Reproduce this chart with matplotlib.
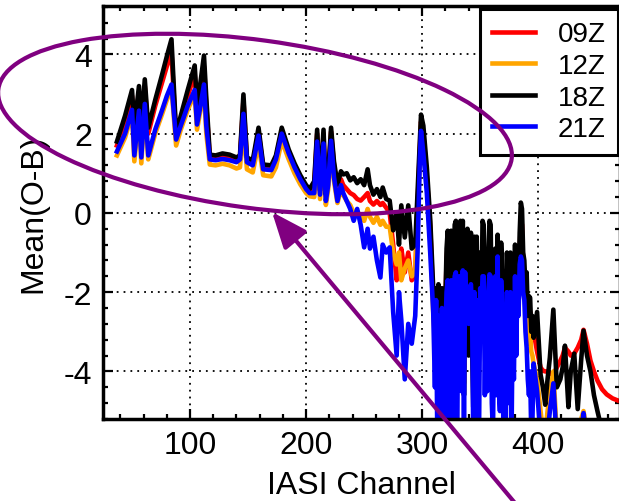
import matplotlib
matplotlib.use('Agg')
import matplotlib.pyplot as plt
from matplotlib.patches import Ellipse
from matplotlib.transforms import IdentityTransform
from matplotlib.ticker import MultipleLocator

plt.rcParams['font.family'] = ['Liberation Sans', 'DejaVu Sans']
plt.rcParams['axes.unicode_minus'] = False

# channel positions; 311-395 is the noisy part, every channel
chan = ([37, 44, 50, 52, 56, 58, 61, 64, 70, 76, 80, 84, 88, 92, 98, 104, 106, 109, 112, 114, 117, 122, 128, 134, 140,
         143, 146, 149, 154, 159, 163, 170, 174, 179, 185, 190, 195, 200, 203,
         207, 209.5, 212, 215, 217, 219, 221.5, 224, 227,
         230, 232, 235, 238, 241, 244, 247, 250, 253, 255, 258, 261, 264, 266, 269, 272, 275, 278, 280, 282,
         285, 288, 291, 294, 296, 298, 299, 301, 304, 307, 309.5]
        + list(range(311, 396))
        + [396, 399, 402, 404, 406, 408, 410, 413, 416, 419, 421, 423, 426, 428, 431, 434, 437, 439, 442, 445,
           448, 451, 455, 459, 464, 470])

omb_09z = [1.7, 2.3, 2.95, 2.0, 3.05, 2.0, 3.2, 2.0, 2.7, 3.3, 3.7, 4.05, 1.9, 2.3, 2.95, 3.5, 2.55, 3.1, 3.7, 2.7, 1.4, 1.38, 1.42, 1.4, 1.33,
           1.38, 2.85, 1.33, 1.25, 2.05, 1.15, 1.13, 1.38, 2.08, 1.52, 1.18, 0.88, 0.63, 0.53,
           0.7, 2.0, 0.5, 2.0, 0.4, 0.9, 2.05, 1.2, 0.6,
           0.85, 0.7, 0.6, 0.5, 0.45, 0.35, 0.31, 0.4, 0.5, 0.3, 0.21, 0.3, 0.2, 0.25, 0.13, 0.0, -0.8, -1.7, -1.2, -0.9,
           -1.5, -1.0, -1.7, -1.6, 0.2, 1.6, 2.3, 2.0, 0.9, -0.4, -2.2,
           -2.8, -2.0, -3.3, -2.0, -3.7, -2.6, -2.1, -3.5, -3.9, -2.3,
           -1.2, -0.8, -3.2, -2.1, -1.0, -3.5, -2.6, -0.7, -0.6, -3.0,
           -2.2, -0.8, -0.7, -2.4, -0.7, -3.9, -1.2, -2.8, -1.0, -3.2,
           -1.4, -1.1, -2.9, -4.0, -1.0, -2.6, -1.0, -3.6, -2.9, -1.4,
           -2.3, -0.9, -0.9, -2.7, -1.6, -3.2, -1.4, -0.9, -0.9, -2.5,
           -3.9, -1.8, -1.4, -3.0, -1.0, -2.7, -3.0, -1.3, -1.8, -3.4,
           -2.0, -3.5, -1.6, -2.3, -2.9, -1.6, -3.1, -2.0, -2.7, -1.4,
           -2.5, -1.6, -2.0, -1.0, -0.2, -0.3, -1.4, -1.6, -2.1, -2.0,
           -2.7, -2.8, -2.5, -2.9, -3.0,
           -3.0, -3.5, -3.9, -3.98, -4.0, -4.0, -4.05, -4.08, -3.9, -3.73, -3.6, -3.4, -3.5, -3.6, -3.55, -3.4, -3.2, -2.95, -3.3, -3.73,
           -4.0, -4.23, -4.45, -4.58, -4.68, -4.75]

omb_12z = [1.45, 1.9, 2.5, 1.3, 2.5, 1.25, 2.65, 1.35, 2.0, 2.5, 2.85, 3.15, 1.7, 2.1, 2.6, 3.0, 2.1, 2.6, 3.1, 2.0, 1.22, 1.2, 1.24, 1.2, 1.12,
           1.15, 2.2, 1.1, 1.02, 1.75, 0.95, 0.92, 1.15, 1.82, 1.35, 1.0, 0.72, 0.5, 0.42,
           0.4, 1.65, 0.35, 1.6, 0.2, 0.6, 1.7, 0.8, 0.25,
           0.6, 0.45, 0.3, 0.2, 0.0, 0.05, -0.1, -0.2, 0.1, -0.1, -0.25, -0.1, -0.3, -0.2, -0.35, -0.35, -1.0, -1.3, -1.0, -1.7,
           -1.4, -1.2, -1.6, -1.5, 0.0, 1.5, 2.2, 1.9, 0.8, -0.6, -2.5,
           -3.2, -2.1, -3.9, -2.2, -4.3, -2.9, -2.3, -4.1, -4.5, -2.6,
           -1.5, -1.1, -3.6, -2.4, -1.2, -4.0, -3.0, -1.0, -1.0, -3.4,
           -2.5, -1.0, -1.0, -2.8, -1.0, -4.3, -1.3, -3.1, -1.4, -3.5,
           -1.7, -1.4, -3.2, -4.4, -1.3, -2.9, -1.3, -4.0, -3.3, -1.6,
           -2.6, -1.2, -1.2, -3.1, -1.9, -3.6, -1.6, -1.2, -1.2, -2.9,
           -4.4, -2.0, -1.5, -3.4, -1.1, -3.1, -3.4, -1.5, -2.1, -3.8,
           -2.3, -3.9, -1.8, -2.6, -3.3, -1.8, -3.5, -2.3, -3.1, -1.6,
           -2.9, -1.8, -2.3, -1.2, -0.5, -0.6, -1.7, -1.9, -2.4, -2.3,
           -3.1, -3.3, -3.0, -3.5, -3.6,
           -3.8, -4.2, -5.0, -5.5, -5.6, -5.0, -4.6, -4.0, -5.6, -5.6, -5.6, -5.3, -5.6, -5.6, -5.4, -5.6, -5.2, -5.0, -5.6, -5.8,
           -6.0, -6.0, -6.0, -6.0, -6.0, -6.0]

omb_18z = [1.8, 2.45, 3.1, 2.15, 3.2, 2.15, 3.37, 2.15, 2.85, 3.5, 3.95, 4.38, 2.0, 2.45, 3.1, 3.72, 2.74, 3.3, 3.97, 2.9, 1.47, 1.45, 1.5, 1.47, 1.4,
           1.45, 2.99, 1.4, 1.32, 2.15, 1.22, 1.2, 1.45, 2.15, 1.6, 1.25, 0.95, 0.7, 0.6,
           0.8, 2.1, 0.57, 2.1, 0.46, 1.0, 2.15, 1.3, 0.72,
           1.05, 0.97, 1.0, 0.82, 0.9, 0.75, 0.85, 0.7, 1.1, 0.7, 0.46, 0.6, 0.4, 0.64, 0.35, 0.31, -0.44, 0.0, -0.8, 0.19,
           -0.62, 0.19, -0.9, -0.8, 0.5, 1.8, 2.48, 2.2, 1.15, -0.2, -1.9,
           -3.0, -1.9, -3.6, -1.8, -4.2, -2.6, -1.9, -3.9, -4.6, -2.2,
           -0.9, -0.45, -3.5, -2.0, -0.45, -3.9, -2.8, -0.3, -0.2, -3.3,
           -2.2, -0.4, -0.2, -2.5, -0.2, -4.6, -0.9, -3.0, -0.4, -3.6,
           -1.1, -0.5, -3.2, -4.9, -0.6, -2.7, -0.6, -4.1, -3.2, -1.0,
           -2.4, -0.2, -0.3, -3.0, -1.2, -3.6, -1.0, -0.2, -0.3, -2.8,
           -4.6, -1.5, -0.9, -3.4, -0.55, -2.9, -3.3, -0.75, -1.5, -3.8,
           -1.5, -3.9, -1.0, -2.2, -3.2, -1.0, -3.5, -1.6, -2.9, -0.8,
           -2.6, -1.0, -1.8, -0.5, 0.26, 0.1, -1.0, -1.2, -1.9, -1.5,
           -2.6, -2.1, -2.14, -3.0, -2.6,
           -3.15, -2.5, -4.08, -4.4, -4.84, -4.2, -3.65, -2.44, -4.4, -4.2, -3.9, -3.35, -4.9, -4.0, -3.55, -4.95, -3.7, -2.97, -3.6, -4.0,
           -4.6, -5.0, -5.5, -5.8, -6.0, -6.0]

omb_21z = [1.55, 2.0, 2.6, 1.45, 2.58, 1.4, 2.75, 1.45, 2.1, 2.6, 2.95, 3.24, 1.85, 2.2, 2.7, 3.1, 2.23, 2.7, 3.24, 2.2, 1.35, 1.33, 1.36, 1.33, 1.28,
           1.35, 2.5, 1.28, 1.2, 1.95, 1.1, 1.08, 1.35, 2.0, 1.5, 1.15, 0.85, 0.6, 0.5,
           0.5, 1.8, 0.46, 1.75, 0.3, 0.7, 1.82, 0.9, 0.3,
           0.7, 0.5, 0.3, 0.1, -0.2, 0.1, -0.3, -0.87, -0.4, -0.9, -0.6, -1.2, -1.63, -0.8, -1.0, -0.87, -2.5, -3.6, -2.0, -2.7,
           -4.2, -2.8, -3.3, -2.6, -1.0, 1.4, 2.07, 1.5, 0.5, -1.05, -2.5,
           -4.4, -2.2, -5.6, -2.6, -5.6, -3.6, -2.4, -5.6, -5.6, -3.0,
           -2.0, -1.7, -5.5, -3.2, -1.7, -5.6, -3.8, -1.6, -1.5, -5.6,
           -3.3, -1.6, -1.6, -4.5, -1.45, -5.6, -1.5, -2.7, -2.2, -2.8,
           -1.9, -1.8, -2.5, -5.6, -2.0, -2.7, -2.2, -5.6, -5.5, -1.9,
           -2.6, -1.6, -1.6, -4.6, -2.4, -4.5, -2.0, -1.55, -1.6, -4.8,
           -5.6, -2.2, -1.6, -4.6, -1.1, -4.4, -5.0, -1.7, -2.4, -5.6,
           -2.5, -5.6, -2.0, -3.6, -4.8, -2.0, -5.6, -2.6, -4.2, -1.6,
           -3.6, -1.8, -2.6, -1.3, -1.1, -1.2, -2.0, -2.2, -3.0, -3.4,
           -4.2, -4.6, -4.0, -5.6, -5.2,
           -3.8, -4.5, -5.6, -5.8, -5.8, -5.6, -5.0, -4.3, -5.8, -5.8, -5.8, -5.6, -5.8, -5.8, -5.6, -5.8, -5.5, -5.05, -5.8, -6.0,
           -6.0, -6.0, -6.0, -6.0, -6.0, -6.0]

labels = ['09Z', '12Z', '18Z', '21Z']
colors = ['#ff0000', '#ffa500', '#000000', '#0000ff']
series = [omb_09z, omb_12z, omb_18z, omb_21z]

fig = plt.figure(figsize=(6.19, 5.02), dpi=100)
ax = fig.add_axes([103 / 619, 82 / 502, 516.5 / 619, 413 / 502])

for vals, lab, col in zip(series, labels, colors):
    ax.plot(chan, vals, color=col, lw=3.3, label=lab)

ax.set_xlim(25, 470)
ax.set_ylim(-5.2, 5.22)
ax.xaxis.set_major_locator(MultipleLocator(100))
ax.xaxis.set_minor_locator(MultipleLocator(20))
ax.yaxis.set_major_locator(MultipleLocator(2))
ax.yaxis.set_minor_locator(MultipleLocator(0.4))
ax.tick_params(which='both', direction='in', top=True, right=True, width=1.6, labelsize=23)
ax.tick_params(which='major', length=7, pad=8)
ax.tick_params(which='minor', length=3.5)
for s in ax.spines.values():
    s.set_linewidth(2.5)
ax.grid(True, which='major', color='black', lw=1.3, linestyle=(0, (1, 2.8)))
ax.set_axisbelow(True)

ax.set_xlabel('IASI Channel', fontsize=23, labelpad=7)
ax.set_ylabel('Mean(O-B)', fontsize=23, labelpad=11)

leg = ax.legend(loc='upper right', bbox_to_anchor=(618, 492), bbox_transform=IdentityTransform(),
                borderaxespad=0, fontsize=20,
                handlelength=1.55, handletextpad=0.8, labelspacing=0.2, borderpad=0.45,
                fancybox=False, framealpha=1, edgecolor='black')
leg.get_frame().set_linewidth(2.2)

# purple annotation: ellipse and arrow (figure pixels)
purple = '#800080'
ell = Ellipse((255, 502 - 125), width=2 * 259, height=2 * 84, angle=-7.75, fill=False,
              edgecolor=purple, lw=3, transform=IdentityTransform(), clip_on=False, zorder=10)
fig.add_artist(ell)
ax.annotate('', xy=(272, 502 - 213), xytext=(530, -20), xycoords='figure pixels',
            textcoords='figure pixels', annotation_clip=False,
            arrowprops=dict(arrowstyle='-|>,head_length=1.1,head_width=0.45', mutation_scale=20,
                            color=purple, lw=3, shrinkA=0, shrinkB=0), zorder=10)

fig.savefig('out.png', dpi=100)
